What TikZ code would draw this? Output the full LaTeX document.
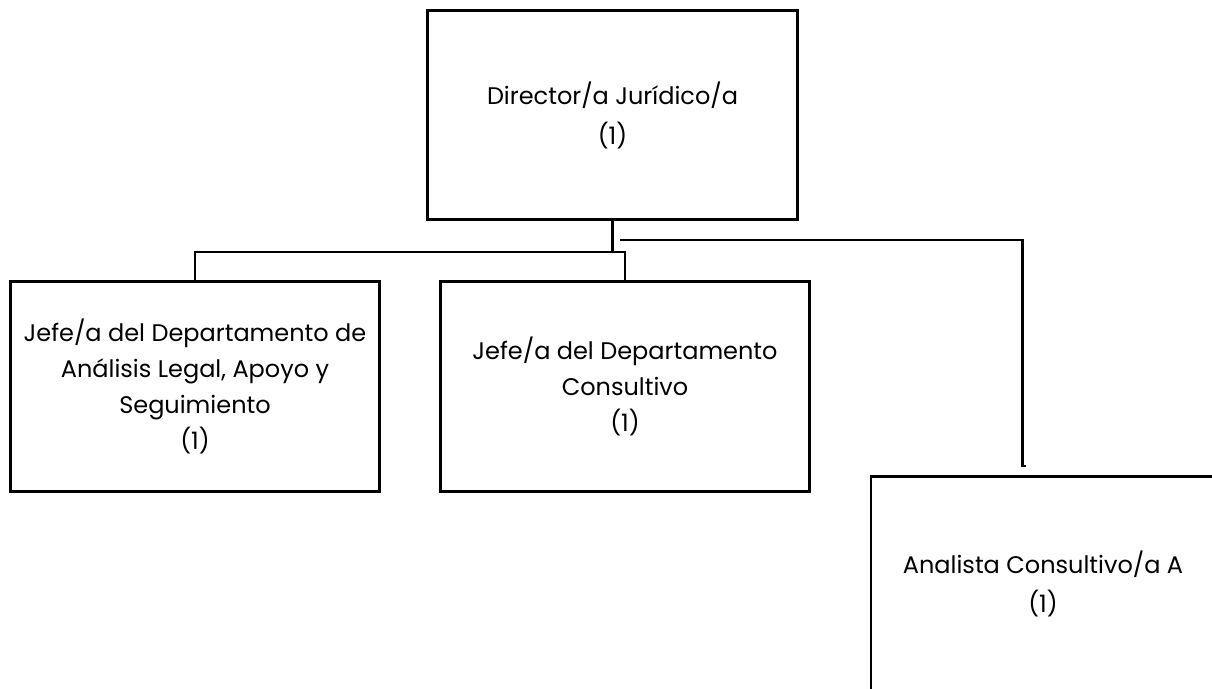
\documentclass[tikz,border=0pt]{standalone}
\usepackage{fontspec}
\setmainfont{Poppins}
\usetikzlibrary{positioning}

\tikzset{
  puesto/.style={draw, line width=2.2pt, align=center,
    minimum width=277pt, minimum height=157pt, inner sep=0pt,
    font=\fontsize{18}{27}\selectfont},
  enlace/.style={line width=2.2pt, line cap=rect}
}

\begin{document}
\begin{tikzpicture}[x=0.75pt, y=-0.75pt]
\clip (0,0) rectangle (1212,688);

\node[puesto, font=\fontsize{18}{30}\selectfont] (D) at (612.5,115) {Director/a Jurídico/a\\(1)};
\node[puesto] (J1) at (195,386.5) {Jefe/a del Departamento de\\Análisis Legal, Apoyo y\\Seguimiento\\(1)};
\node[puesto] (J2) at (625,386.5) {Jefe/a del Departamento\\Consultivo\\(1)};
\node[puesto, font=\fontsize{18}{29}\selectfont, minimum width=258pt, minimum height=161pt] (A) at (1043,584) {Analista Consultivo/a A\\(1)};

\coordinate (R) at (612.5,252);
\coordinate (S) at (621,240);
\coordinate (T) at (1022.5,466);

\draw[enlace] (D.south) -- (R);
\draw[enlace] (R) -| (J1.north);
\draw[enlace] (R) -| (J2.north);
\draw[enlace] (S) -| (T) -- ++(2,0);
\end{tikzpicture}
\end{document}
